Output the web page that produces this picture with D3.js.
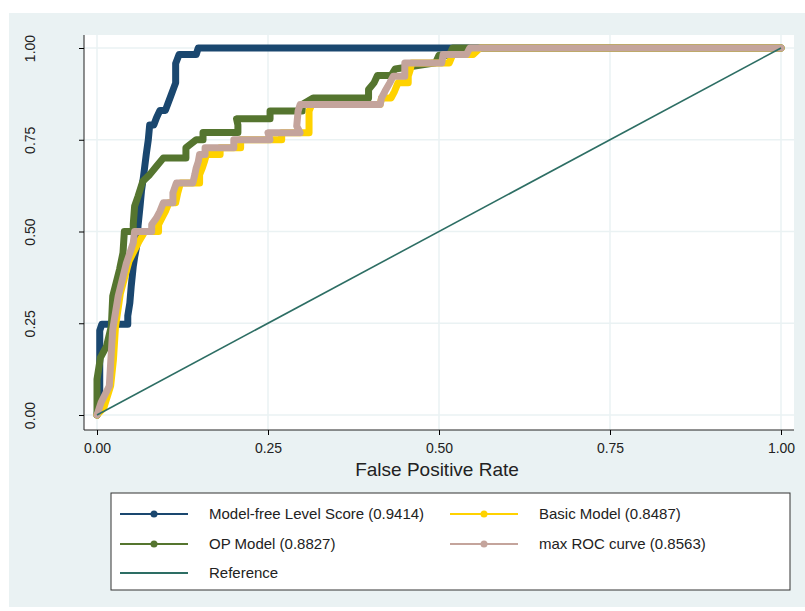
<!DOCTYPE html>
<html lang="en">
  <head>
    <meta charset="utf-8">
    <title>ROC</title>
    <script src="https://d3js.org/d3.v7.js"></script>
    <style>
      body { margin: 0; background: #fff; }
      text { font-family: "Liberation Sans", Arial, sans-serif; fill: #222; }
    </style>
  </head>
  <body>
  <script>

  // ROC vertices [fpr, tpr]
  var modelFree = [[0,0],[0.004,0.06],[0.004,0.23],[0.007,0.247],[0.045,0.247],[0.045,0.27],[0.048,0.305],
    [0.05,0.35],[0.053,0.405],[0.055,0.43],[0.058,0.46],[0.06,0.515],[0.063,0.57],[0.065,0.61],[0.068,0.65],
    [0.07,0.68],[0.072,0.71],[0.075,0.75],[0.077,0.79],[0.083,0.79],[0.087,0.81],[0.092,0.83],[0.1,0.83],
    [0.104,0.85],[0.108,0.87],[0.112,0.89],[0.115,0.905],[0.115,0.958],[0.12,0.982],[0.145,0.982],[0.148,1],[1,1]];
  var opModel = [[0,0],[0,0.097],[0.005,0.156],[0.014,0.188],[0.021,0.242],[0.023,0.324],[0.033,0.397],
    [0.038,0.442],[0.04,0.5],[0.053,0.5],[0.053,0.52],[0.055,0.569],[0.06,0.596],[0.067,0.637],[0.077,0.655],
    [0.087,0.678],[0.097,0.70],[0.13,0.70],[0.13,0.728],[0.145,0.75],[0.155,0.75],[0.155,0.77],[0.206,0.77],
    [0.206,0.79],[0.204,0.807],[0.253,0.807],[0.253,0.828],[0.30,0.828],[0.30,0.846],[0.316,0.864],[0.397,0.864],
    [0.397,0.887],[0.405,0.905],[0.41,0.925],[0.43,0.925],[0.436,0.943],[0.495,0.96],[0.5,0.98],[0.515,0.98],[0.52,1],[1,1]];
  var basicModel = [[0,0],[0.01,0.02],[0.02,0.08],[0.024,0.15],[0.027,0.24],[0.034,0.33],[0.047,0.42],
    [0.055,0.45],[0.062,0.475],[0.07,0.5],[0.09,0.5],[0.09,0.519],[0.095,0.537],[0.1,0.555],[0.105,0.578],
    [0.115,0.578],[0.118,0.605],[0.122,0.632],[0.15,0.632],[0.15,0.655],[0.154,0.673],[0.157,0.69],[0.16,0.71],
    [0.18,0.71],[0.18,0.728],[0.21,0.728],[0.21,0.75],[0.27,0.75],[0.27,0.769],[0.31,0.769],[0.31,0.787],
    [0.31,0.828],[0.314,0.846],[0.414,0.846],[0.416,0.864],[0.43,0.864],[0.435,0.882],[0.44,0.905],[0.455,0.905],
    [0.455,0.923],[0.458,0.941],[0.46,0.959],[0.515,0.959],[0.52,0.982],[0.55,0.982],[0.56,1],[1,1]];
  var maxRoc = [[0,0],[0.006,0.034],[0.018,0.079],[0.02,0.142],[0.023,0.233],[0.031,0.324],[0.043,0.414],
    [0.048,0.441],[0.053,0.469],[0.055,0.5],[0.08,0.5],[0.08,0.519],[0.087,0.537],[0.092,0.555],[0.097,0.578],
    [0.111,0.578],[0.111,0.605],[0.116,0.632],[0.14,0.632],[0.143,0.655],[0.145,0.673],[0.148,0.69],[0.15,0.71],
    [0.158,0.71],[0.158,0.728],[0.2,0.728],[0.2,0.75],[0.253,0.75],[0.25,0.769],[0.297,0.769],[0.292,0.787],
    [0.294,0.828],[0.297,0.846],[0.414,0.846],[0.416,0.864],[0.421,0.882],[0.428,0.905],[0.433,0.923],[0.45,0.923],
    [0.45,0.941],[0.45,0.959],[0.504,0.959],[0.506,0.982],[0.54,0.982],[0.545,1],[1,1]];
  var reference = [[0,0],[1,1]];

  var ticks = [0, 0.25, 0.5, 0.75, 1];
  var seriesNames = ["Model-free Level Score (0.9414)", "Basic Model (0.8487)", "OP Model (0.8827)",
    "max ROC curve (0.8563)", "Reference"];
  var colors = ["#1a476f", "#ffd200", "#55752f", "#c4a49c", "#2d6e64"];

  var w = 805, h = 611;
  var svg = d3.select("body").append("svg").attr("width", w).attr("height", h);

  svg.append("rect").attr("x", 9).attr("y", 13).attr("width", w - 9).attr("height", 594)
      .attr("fill", "#eaf2f3");

  var pLeft = 84, pRight = 794, pTop = 35, pBottom = 430;
  svg.append("rect").attr("x", pLeft).attr("y", pTop).attr("width", pRight - pLeft).attr("height", pBottom - pTop)
      .attr("fill", "white");

  var x = d3.scaleLinear().domain([0, 1]).range([97, 781]);
  var y = d3.scaleLinear().domain([0, 1]).range([415, 48]);

  // grid
  svg.append("g").selectAll("line").data(ticks).enter().append("line")
      .attr("x1", pLeft).attr("x2", pRight).attr("y1", d => y(d)).attr("y2", d => y(d))
      .attr("stroke", "#eaf2f3").attr("stroke-width", 1.5);
  svg.append("g").selectAll("line").data(ticks).enter().append("line")
      .attr("y1", pTop).attr("y2", pBottom).attr("x1", d => x(d)).attr("x2", d => x(d))
      .attr("stroke", "#eaf2f3").attr("stroke-width", 1.5);

  var xAxis = d3.axisBottom(x).tickValues(ticks).tickFormat(d3.format(".2f")).tickSize(5).tickSizeOuter(0);
  var gx = svg.append("g").attr("transform", `translate(0, ${pBottom})`).call(xAxis);
  gx.select(".domain").attr("d", `M${pLeft},0H${pRight}`).attr("stroke", "#222");
  gx.selectAll("text").style("font-size", "14px").attr("dy", "1.1em");

  var yAxis = d3.axisLeft(y).tickValues(ticks).tickFormat(d3.format(".2f")).tickSize(5).tickSizeOuter(0);
  var gy = svg.append("g").attr("transform", `translate(${pLeft}, 0)`).call(yAxis);
  gy.select(".domain").attr("d", `M0,${pTop}V${pBottom}`).attr("stroke", "#222");
  gy.selectAll("text").style("font-size", "14px").style("text-anchor", "middle")
      .attr("x", 0).attr("y", 0).attr("dy", "0.35em")
      .attr("transform", "translate(-54,0) rotate(-90)");

  svg.append("text").attr("x", (pLeft + pRight) / 2 - 2).attr("y", 476).attr("text-anchor", "middle")
      .style("font-size", "19px").text("False Positive Rate");

  var line = d3.line().x(d => x(d[0])).y(d => y(d[1]));
  var plotData = [modelFree, basicModel, opModel, maxRoc];
  var order = [0, 2, 1, 3]; // draw order: blue, green, yellow, pink

  order.forEach(function (i) {
    svg.append("path").datum(plotData[i]).attr("d", line).attr("fill", "none")
        .attr("stroke", colors[i]).attr("stroke-width", 7).attr("stroke-linecap", "round")
        .attr("stroke-linejoin", "round");
  });
  svg.append("path").datum(reference).attr("d", line).attr("stroke", colors[4]).attr("stroke-width", 1.6);

  // legend
  svg.append("rect").attr("x", 111).attr("y", 493).attr("width", 679).attr("height", 97)
      .attr("fill", "white").attr("stroke", "#333");
  var legendPos = [[120, 514], [450, 514], [120, 544], [450, 544], [120, 573]];
  legendPos.forEach(function (p, i) {
    var g = svg.append("g").attr("transform", `translate(${p[0]}, ${p[1]})`);
    g.append("line").attr("x1", 0).attr("x2", 68).attr("stroke", colors[i]).attr("stroke-width", 2);
    if (i < 4) g.append("circle").attr("cx", 34).attr("r", 3.5).attr("fill", colors[i]);
    g.append("text").attr("x", 89).attr("dy", "0.35em").style("font-size", "15px").text(seriesNames[i]);
  });

  </script>
  </body>
</html>
